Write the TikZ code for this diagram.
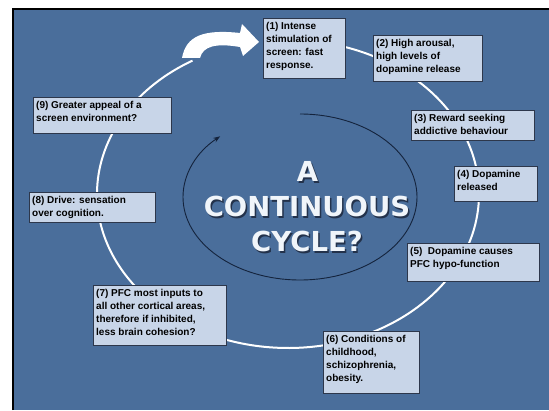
\documentclass[tikz,border=0pt]{standalone}
\usepackage{fontspec}
\setmainfont{Liberation Sans}
\newfontfamily\titlefont{DejaVu Sans}
\usetikzlibrary{arrows.meta}
\definecolor{slidebg}{RGB}{74,110,155}
\definecolor{boxfill}{RGB}{200,213,232}
\definecolor{boxline}{RGB}{45,55,75}
\definecolor{innerline}{RGB}{20,35,60}
\definecolor{titlecol}{RGB}{240,245,250}
\definecolor{titleshadow}{RGB}{35,50,75}
\tikzset{
  stepbox/.style={draw=boxline, line width=0.9pt, fill=boxfill, rectangle, inner sep=0pt, anchor=north west},
  boxtext/.style={anchor=north west, inner sep=0pt, align=left, text=black,
    font=\fontsize{10}{13}\selectfont\bfseries},
  ringline/.style={draw=white, line width=2pt},
  titletext/.style={anchor=base, inner sep=0pt, text=titlecol, font=\titlefont\fontsize{27.5}{35}\selectfont\bfseries},
  shadowtext/.style={anchor=base, inner sep=0pt, text=titleshadow, font=\titlefont\fontsize{27.5}{35}\selectfont\bfseries}
}
\begin{document}
\begin{tikzpicture}[x=1pt,y=1pt]
\useasboundingbox (0,0) rectangle (549,410);
\fill[white] (0,0) rectangle (549,410);
\fill[slidebg] (13,0) rectangle (549,401);
\draw[black, line width=1.6pt] (13,0) -- (13,401) -- (549,401);

% outer white ring
\coordinate (ringc) at (288,216);
\draw[ringline] ([shift={(86:191pt and 154pt)}]ringc) arc[start angle=86, end angle=-240, x radius=191pt, y radius=154pt];

% white curved block arrow
\fill[white] (182,352) .. controls (186,374) and (203,381) .. (240,377) -- (242,386) -- (259,368) -- (243,354) -- (240,363) .. controls (216,367) and (203,364) .. (200,352) -- cycle;

% inner dark ellipse arrow
\coordinate (innerc) at (300,213);
\draw[innerline, line width=0.9pt, -{Stealth[length=7pt,width=5pt]}] ([shift={(90:117pt and 83pt)}]innerc) arc[start angle=90, end angle=-227, x radius=117pt, y radius=83pt];

% title
\node[shadowtext] (shA) at (309,226.5) {A};
\node[shadowtext] (shB) at (308.5,191.5) {CONTINUOUS};
\node[shadowtext] (shC) at (308.5,156.5) {CYCLE?};
\node[titletext] (tA) at (307.5,228) {A};
\node[titletext] (tB) at (307,193) {CONTINUOUS};
\node[titletext] (tC) at (307,158) {CYCLE?};

% boxes
\node[stepbox, minimum width=82pt, minimum height=60pt] (b1) at (263,392) {};
\node[boxtext] (t1) at ([shift={(3,-4)}]b1.north west) {(1) Intense\\stimulation of\\screen: fast\\response.};

\node[stepbox, minimum width=109pt, minimum height=46pt] (b2) at (373,375) {};
\node[boxtext] (t2) at ([shift={(3,-4)}]b2.north west) {(2) High arousal,\\high levels of\\dopamine release};

\node[stepbox, minimum width=123pt, minimum height=30pt] (b3) at (411,300) {};
\node[boxtext] (t3) at ([shift={(3,-4)}]b3.north west) {(3) Reward seeking\\addictive behaviour};

\node[stepbox, minimum width=83pt, minimum height=35pt] (b4) at (454,244) {};
\node[boxtext] (t4) at ([shift={(3,-4)}]b4.north west) {(4) Dopamine\\released};

\node[stepbox, minimum width=132pt, minimum height=38pt] (b5) at (407,167) {};
\node[boxtext] (t5) at ([shift={(3,-4)}]b5.north west) {(5)\ \ Dopamine causes\\PFC hypo-function};

\node[stepbox, minimum width=96pt, minimum height=62pt] (b6) at (323,79) {};
\node[boxtext] (t6) at ([shift={(3,-4)}]b6.north west) {(6) Conditions of\\childhood,\\schizophrenia,\\obesity.};

\node[stepbox, minimum width=133pt, minimum height=60pt] (b7) at (93,125) {};
\node[boxtext] (t7) at ([shift={(3,-4)}]b7.north west) {(7) PFC most inputs to\\all other cortical areas,\\therefore if inhibited,\\less brain cohesion?};

\node[stepbox, minimum width=126pt, minimum height=30pt] (b8) at (29,218) {};
\node[boxtext] (t8) at ([shift={(3,-4)}]b8.north west) {(8) Drive: sensation\\over cognition.};

\node[stepbox, minimum width=138pt, minimum height=36pt] (b9) at (33,313) {};
\node[boxtext] (t9) at ([shift={(3,-4)}]b9.north west) {(9) Greater appeal of a\\screen environment?};
\end{tikzpicture}
\end{document}
